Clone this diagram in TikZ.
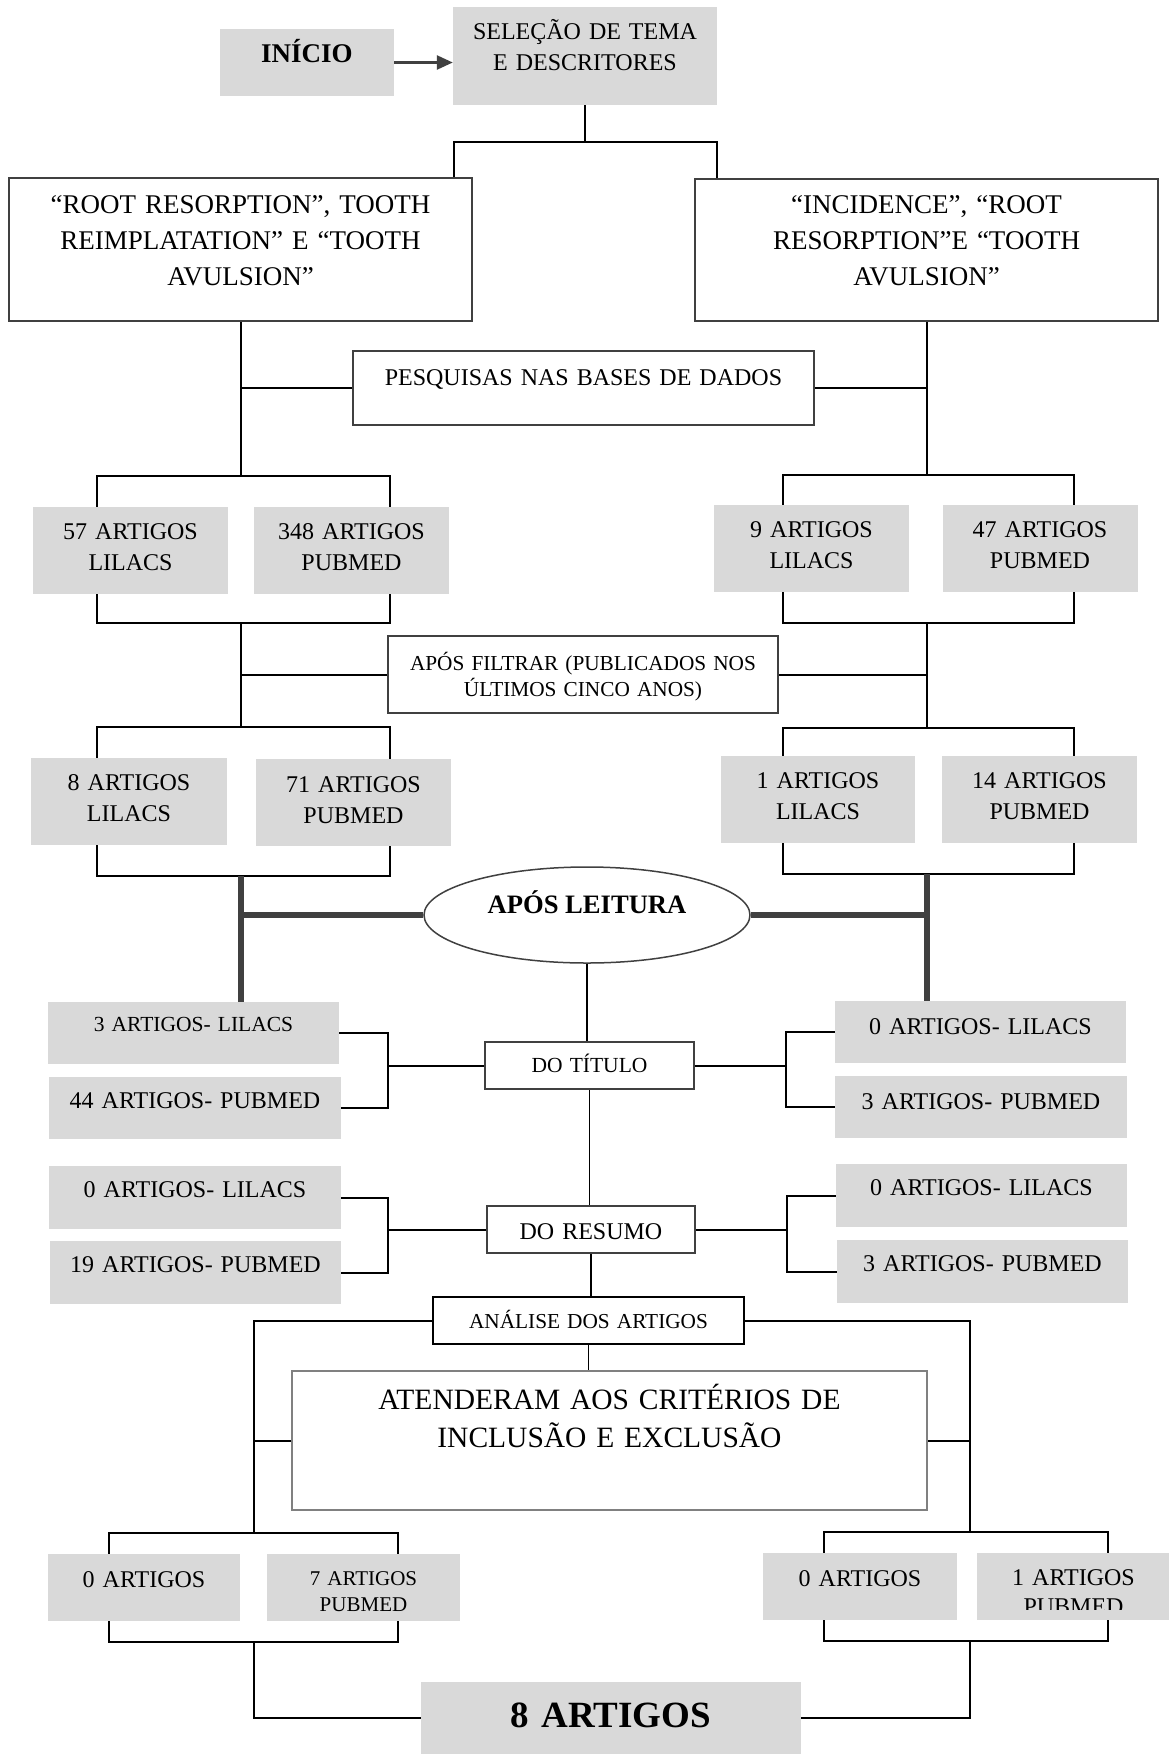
\documentclass[tikz,border=0pt]{standalone}
\usepackage{fontspec}
\setmainfont{Liberation Serif}
\usetikzlibrary{shapes.geometric,arrows.meta,calc}
\definecolor{boxgray}{HTML}{D9D9D9}
\definecolor{linegray}{HTML}{404040}
\newcommand{\fsz}[2]{\fontsize{#1}{#2}\selectfont}

\begin{document}
\begin{tikzpicture}[x=1pt,y=-1pt,
    gbox/.style={fill=boxgray,inner sep=0pt,align=center},
    wbox/.style={draw=linegray,line width=2pt,fill=white,inner sep=0pt,align=center},
    sz/.style 2 args={minimum width=#1,minimum height=#2,text width=#1-10},
    txtpos/.style={text height=0pt,text depth=#1},
    txtdown/.style={text height=#1,text depth=0pt},
    link/.style={line width=2pt},
    stem/.style={line width=1.5pt},
    heavy/.style={line width=6pt,linegray}]
\useasboundingbox (0,0) rectangle (1168,1754);

\node[gbox,sz={174}{67},txtpos=0,font=\bfseries\fsz{27}{32}] (inicio) at (307,62.5) {INÍCIO};
\node[gbox,sz={264}{98},txtpos=33,font=\fsz{24}{31}] (selecao) at (585,56) {SELEÇÃO DE TEMA\\E DESCRITORES};
\node[wbox,sz={463}{143},txtpos=73,font=\fsz{27}{36}] (rootL) at (240.5,249.5) {“ROOT RESORPTION”, TOOTH\\REIMPLATATION” E “TOOTH\\AVULSION”};
\node[wbox,sz={463}{142},txtpos=74,font=\fsz{27}{36}] (rootR) at (926.5,250) {“INCIDENCE”, “ROOT\\RESORPTION”E “TOOTH\\AVULSION”};
\node[wbox,sz={461}{74},txtpos=6,font=\fsz{24}{30}] (pesq) at (583.5,388) {PESQUISAS NAS BASES DE DADOS};

\node[gbox,sz={195}{87},txtpos=23,font=\fsz{24}{31}] (l57) at (130.5,550.5) {57 ARTIGOS\\LILACS};
\node[gbox,sz={195}{87},txtpos=23,font=\fsz{24}{31}] (p348) at (351.5,550.5) {348 ARTIGOS\\PUBMED};
\node[gbox,sz={195}{87},txtpos=23,font=\fsz{24}{31}] (l9) at (811.5,548.5) {9 ARTIGOS\\LILACS};
\node[gbox,sz={195}{87},txtpos=23,font=\fsz{24}{31}] (p47) at (1040,548.5) {47 ARTIGOS\\PUBMED};

\node[wbox,sz={390}{77},txtpos=9,font=\fsz{21.3}{26}] (filtrar) at (583,674.5) {APÓS FILTRAR (PUBLICADOS NOS\\ÚLTIMOS CINCO ANOS)};

\node[gbox,sz={196}{87},txtpos=23,font=\fsz{24}{31}] (l8) at (129,801.5) {8 ARTIGOS\\LILACS};
\node[gbox,sz={195}{87},txtpos=21,font=\fsz{24}{31}] (p71) at (353.5,802.5) {71 ARTIGOS\\PUBMED};
\node[gbox,sz={194}{87},txtpos=23,font=\fsz{24}{31}] (l1) at (818,799.5) {1 ARTIGOS\\LILACS};
\node[gbox,sz={195}{87},txtpos=23,font=\fsz{24}{31}] (p14) at (1039.5,799.5) {14 ARTIGOS\\PUBMED};

\node[ellipse,draw=linegray,line width=1.5pt,fill=white,minimum width=326,minimum height=96,inner sep=0pt,txtpos=4,font=\bfseries\fsz{26.6}{30}] (leitura) at (587,915) {APÓS LEITURA};

\node[wbox,sz={209}{47},txtdown=14,font=\fsz{21.5}{26}] (titulo) at (589.5,1065.5) {DO TÍTULO};
\node[gbox,sz={291}{62},txtpos=3,font=\fsz{21.5}{26}] (tl3) at (193.5,1033) {3 ARTIGOS- LILACS};
\node[gbox,sz={292}{62},txtpos=0,font=\fsz{24}{30}] (tp44) at (195,1108) {44 ARTIGOS- PUBMED};
\node[gbox,sz={291}{62},txtdown=4,font=\fsz{24}{30}] (tl0r) at (980.5,1032) {0 ARTIGOS- LILACS};
\node[gbox,sz={292}{62},txtdown=4,font=\fsz{24}{30}] (tp3r) at (981,1107) {3 ARTIGOS- PUBMED};

\node[wbox,sz={208}{47},txtdown=19,font=\fsz{24}{30}] (resumo) at (591,1229.5) {DO RESUMO};
\node[gbox,sz={292}{63},txtpos=0,font=\fsz{24}{30}] (rl0) at (195,1197.5) {0 ARTIGOS- LILACS};
\node[gbox,sz={291}{63},txtpos=0,font=\fsz{24}{30}] (rp19) at (195.5,1272.5) {19 ARTIGOS- PUBMED};
\node[gbox,sz={291}{63},txtpos=0,font=\fsz{24}{30}] (rl0r) at (981.5,1195.5) {0 ARTIGOS- LILACS};
\node[gbox,sz={291}{63},txtpos=0,font=\fsz{24}{30}] (rp3r) at (982.5,1271.5) {3 ARTIGOS- PUBMED};

\node[wbox,draw=black,line width=2.5pt,sz={311}{47},txtdown=15,font=\fsz{21.3}{26}] (analise) at (588.5,1320.5) {ANÁLISE DOS ARTIGOS};
\node[wbox,draw=gray,sz={635}{139},txtpos=62,font=\fsz{29.5}{38}] (atend) at (609.5,1440.5) {ATENDERAM AOS CRITÉRIOS DE\\INCLUSÃO E EXCLUSÃO};

\node[gbox,sz={192}{67},txtpos=0,font=\fsz{24}{30}] (b0L) at (144,1587.5) {0 ARTIGOS};
\node[gbox,sz={193}{67},txtpos=5,font=\fsz{21}{26.7}] (b7) at (363.5,1587.5) {7 ARTIGOS\\PUBMED};
\node[gbox,sz={194}{67},txtpos=0,font=\fsz{24}{30}] (b0R) at (860,1586.5) {0 ARTIGOS};
\node[gbox,sz={193}{67},txtpos=2,font=\fsz{24}{29}] (b1) at (1073.5,1586.5) {1 ARTIGOS\\PUBMED};
\fill[boxgray] ($(b1.south west)+(0,-10)$) rectangle (b1.south east);

\node[gbox,sz={380}{72},txtdown=18,font=\bfseries\fsz{37}{42}] (final) at (611,1718) {8 ARTIGOS};

\coordinate (splitL) at (454,142);
\coordinate (splitR) at (717,142);
\coordinate (L1) at (97,476);  \coordinate (L2) at (390,476);
\coordinate (L3) at (97,623);  \coordinate (L4) at (390,623);
\coordinate (L5) at (97,727);  \coordinate (L6) at (390,727);
\coordinate (L7) at (97,876);  \coordinate (L8) at (390,876);
\coordinate (R1) at (783,475); \coordinate (R2) at (1074,475);
\coordinate (R3) at (783,623); \coordinate (R4) at (1074,623);
\coordinate (R5) at (783,728); \coordinate (R6) at (1074,728);
\coordinate (R7) at (783,874); \coordinate (R8) at (1074,874);
\coordinate (tL) at (388,1067); \coordinate (tR) at (786,1067);
\coordinate (rL) at (388,1230); \coordinate (rR) at (787,1230);
\coordinate (aL) at (254,1533); \coordinate (aR) at (970,1532);
\coordinate (B1) at (109,1533); \coordinate (B2) at (398,1533);
\coordinate (B3) at (109,1642); \coordinate (B4) at (398,1642);
\coordinate (C1) at (824,1532); \coordinate (C2) at (1108,1532);
\coordinate (C3) at (824,1641); \coordinate (C4) at (1108,1641);

\draw[-{Triangle[length=16pt,width=14pt]},line width=2.5pt,linegray] (inicio.east) -- (inicio.east -| selecao.west);
\draw[stem] (selecao.south) -- (selecao.south |- splitL);
\draw[link] (splitL |- rootL.north) -- (splitL) -- (splitR) -- (splitR |- rootR.north);

\draw[link] (rootL.south) -- (rootL.south |- L1);
\draw[link] (pesq.west) -- (pesq.west -| rootL.south);
\draw[link] (rootR.south) -- (rootR.south |- R1);
\draw[link] (pesq.east) -- (pesq.east -| rootR.south);

\draw[link] (L1 |- l57.north) -- (L1) -- (L2) -- (L2 |- p348.north);
\draw[link] (L3 |- l57.south) -- (L3) -- (L4) -- (L4 |- p348.south);
\draw[link] (R1 |- l9.north) -- (R1) -- (R2) -- (R2 |- p47.north);
\draw[link] (R3 |- l9.south) -- (R3) -- (R4) -- (R4 |- p47.south);

\draw[link] (rootL.south |- L3) -- (rootL.south |- L5);
\draw[link] (filtrar.west) -- (filtrar.west -| rootL.south);
\draw[link] (rootR.south |- R3) -- (rootR.south |- R5);
\draw[link] (filtrar.east) -- (filtrar.east -| rootR.south);

\draw[link] (L5 |- l8.north) -- (L5) -- (L6) -- (L6 |- p71.north);
\draw[link] (L7 |- l8.south) -- (L7) -- (L8) -- (L8 |- p71.south);
\draw[link] (R5 |- l1.north) -- (R5) -- (R6) -- (R6 |- p14.north);
\draw[link] (R7 |- l1.south) -- (R7) -- (R8) -- (R8 |- p14.south);

\draw[heavy] (rootL.south |- L7) -- (rootL.south |- tl3.north);
\draw[heavy] (leitura.west) -- (leitura.west -| rootL.south);
\draw[heavy] (rootR.south |- R7) -- (rootR.south |- tl0r.north);
\draw[heavy] (leitura.east) -- (leitura.east -| rootR.south);

\draw[stem] (leitura.south) -- (leitura.south |- titulo.north);
\draw[stem] (titulo.south) -- (titulo.south |- resumo.north);
\draw[stem] (resumo.south) -- (resumo.south |- analise.north);
\draw[stem] (analise.south) -- (analise.south |- atend.north);

\draw[link] (tl3.east) -| (tL) |- (tp44.east);
\draw[link] (titulo.west) -- (titulo.west -| tL);
\draw[link] (tl0r.west) -| (tR) |- (tp3r.west);
\draw[link] (titulo.east) -- (titulo.east -| tR);

\draw[link] (rl0.east) -| (rL) |- (rp19.east);
\draw[link] (resumo.west) -- (resumo.west -| rL);
\draw[link] (rl0r.west) -| (rR) |- (rp3r.west);
\draw[link] (resumo.east) -- (resumo.east -| rR);

\draw[link] (analise.west) -| (aL);
\draw[link] (atend.west) -- (atend.west -| aL);
\draw[link] (analise.east) -| (aR);
\draw[link] (atend.east) -- (atend.east -| aR);

\draw[link] (B1 |- b0L.north) -- (B1) -- (B2) -- (B2 |- b7.north);
\draw[link] (B3 |- b0L.south) -- (B3) -- (B4) -- (B4 |- b7.south);
\draw[link] (C1 |- b0R.north) -- (C1) -- (C2) -- (C2 |- b1.north);
\draw[link] (C3 |- b0R.south) -- (C3) -- (C4) -- (C4 |- b1.south);

\draw[link] (aL |- B3) |- (final.west);
\draw[link] (aR |- C3) |- (final.east);
\end{tikzpicture}
\end{document}
